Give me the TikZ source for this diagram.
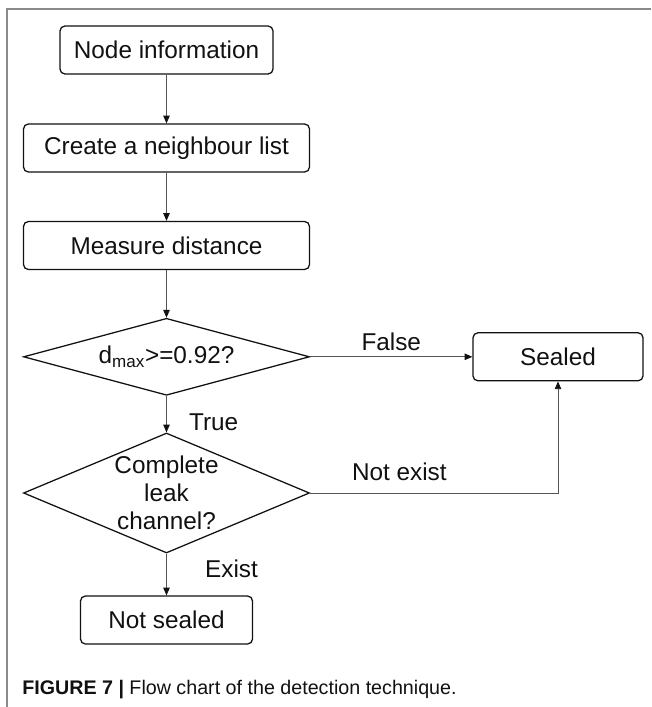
\documentclass[tikz,border=0pt]{standalone}
\usepackage{fontspec}
\setmainfont{Liberation Sans}
\usepackage{tikz}
\usetikzlibrary{arrows.meta,shapes.geometric,positioning}
\definecolor{flowInk}{HTML}{111111}
\definecolor{flowLine}{HTML}{555555}
\definecolor{flowFrame}{HTML}{8A8A8A}
\begin{document}
\begin{tikzpicture}[
  box/.style={draw=flowInk, rounded corners=3.5pt, line width=0.9pt, align=center,
    minimum height=1.2cm, inner sep=0pt, font=\fontsize{17.3}{20}\selectfont, text=flowInk},
  test/.style={draw=flowInk, diamond, line width=0.9pt, align=center, inner sep=0pt,
    minimum width=7.15cm, font=\fontsize{17.3}{20}\selectfont, text=flowInk},
  arrow/.style={-{Triangle[length=5.5pt,width=4.6pt,color=flowInk]}, line width=0.6pt, draw=flowLine},
  edgekey/.style={inner sep=3pt, font=\fontsize{17.3}{20}\selectfont, text=flowInk}
]
\useasboundingbox (0,0) rectangle (16.275,-17.675);
\draw[flowFrame, line width=0.8pt] (0.175,-17.675) -- (0.175,-0.225) -- (16.275,-0.225);
\node[box, minimum width=5.325cm] (info) at (4.1625,-1.25) {Node information};
\node[box, minimum width=7.15cm] (neigh) at (4.1625,-3.7) {Create a neighbour list};
\node[box, minimum width=7.15cm] (dist) at (4.1625,-6.1375) {Measure distance};
\node[test, aspect=3.7, minimum height=1.925cm] (dmax) at (4.1625,-8.92)
  {d\textsubscript{max}>=0.92?};
\node[box, minimum width=4.25cm] (sealed) at (13.95,-8.92) {Sealed};
\node[test, aspect=2.38, minimum height=3cm] (leak) at (4.1625,-12.325)
  {Complete\\leak\\channel?};
\node[box, minimum width=4.3cm] (open) at (4.1625,-15.5) {Not sealed};
\draw[arrow] (info) -- (neigh);
\draw[arrow] (neigh) -- (dist);
\draw[arrow] (dist) -- (dmax);
\draw[arrow] (dmax) -- node[edgekey,above=1pt]{False} (sealed);
\draw[arrow] (dmax) -- node[edgekey,right=0.45cm,pos=0.72]{True} (leak);
\draw[arrow] (leak.east) -| node[edgekey,above=0.2cm,pos=0.18]{Not exist} (sealed.south);
\draw[arrow] (leak) -- node[edgekey,right=0.85cm,pos=0.37]{Exist} (open);
\node[anchor=west, inner sep=0pt, font=\fontsize{14}{16}\selectfont, text=flowInk] (caption)
  at (0.55,-17.25) {\textbf{FIGURE 7 |} Flow chart of the detection technique.};
\end{tikzpicture}
\end{document}
